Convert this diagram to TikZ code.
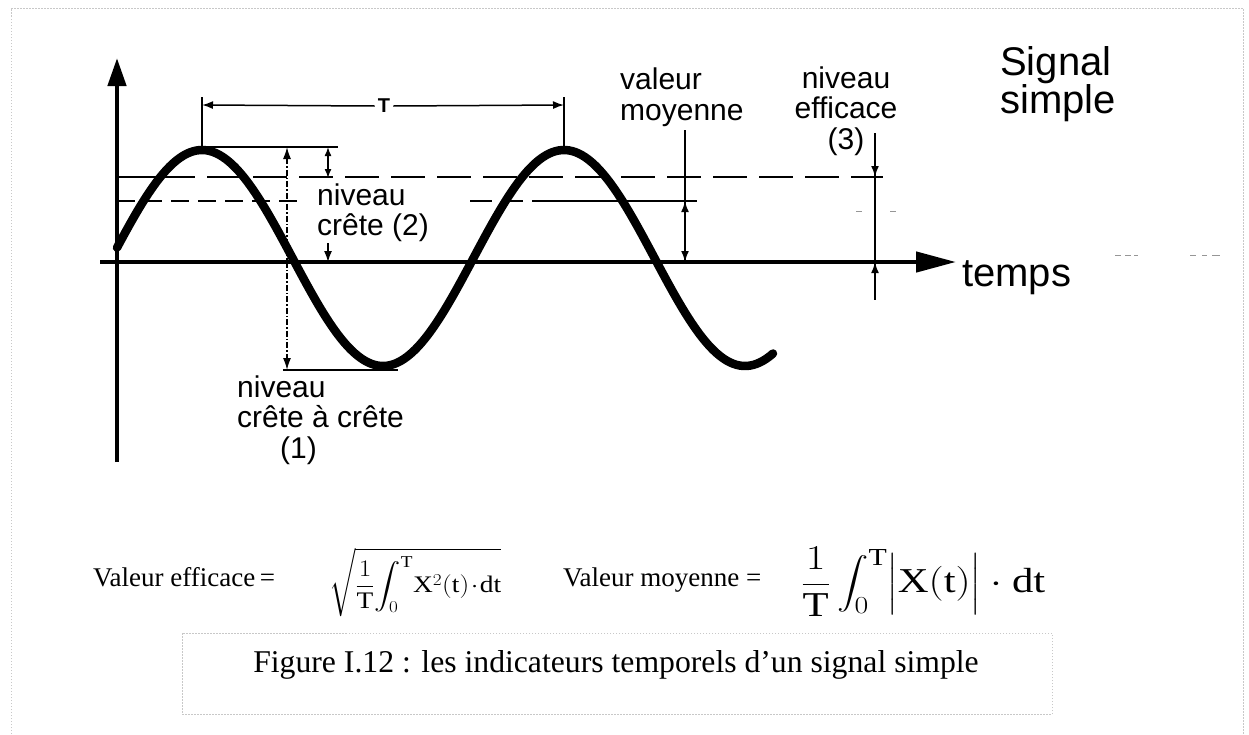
\RequirePackage{fix-cm}
\documentclass[tikz,border=0pt]{standalone}
\usepackage{amsmath}
\usepackage{fontspec}
\setmainfont{Liberation Serif}
\newfontfamily\labfont{Liberation Sans}
\usetikzlibrary{arrows.meta}
\definecolor{bordergray}{RGB}{200,200,200}
\definecolor{speck}{RGB}{150,150,150}
\begin{document}
\begin{tikzpicture}[x=1pt,y=-1pt,
  axisln/.style={line width=4.5pt},
  thinln/.style={line width=1.5pt},
  dimln/.style={line width=2.2pt},
  arr/.style={-{Latex[length=11pt,width=8pt]}},
  darr/.style={{Latex[length=9pt,width=7pt]}-{Latex[length=9pt,width=7pt]}},
  lab/.style={font=\labfont\fontsize{30}{30.5}\selectfont, inner sep=0pt, align=left},
  biglab/.style={font=\labfont\fontsize{40}{38}\selectfont, inner sep=0pt, align=left},
  frm/.style={inner sep=0pt},
  txt/.style={inner sep=0pt, font=\fontsize{27}{27}\selectfont},
  borderln/.style={draw=bordergray, line width=1pt, dash pattern=on 1.5pt off 1.5pt},
  speckln/.style={draw=speck, line width=1pt}
]
\useasboundingbox (0,0) rectangle (1249,734);
% outer border
\coordinate (b1) at (11,734); \coordinate (b2) at (11,8);
\coordinate (b3) at (1243,8); \coordinate (b4) at (1243,734);
\draw[borderln] (b1) -- (b2) -- (b3) -- (b4);

% level lines
\coordinate (e0) at (117,177); \coordinate (e1) at (161,177); \coordinate (e2) at (883,177);
\draw[thinln] (e0) -- (e1);
\draw[thinln, dash pattern=on 34pt off 12pt] (e1) -- (e2);
\coordinate (m0) at (117,201); \coordinate (m1) at (297,201);
\coordinate (m2) at (470,201); \coordinate (m3) at (545,201); \coordinate (m4) at (697,201);
\draw[thinln, dash pattern=on 18pt off 9pt] (m0) -- (m1);
\draw[thinln, dash pattern=on 22pt off 9pt] (m2) -- (m3);
\draw[thinln] (m3) -- (m4);

% peak and trough lines
\coordinate (p0) at (202,147); \coordinate (p1) at (338,147);
\draw[thinln] (p0) -- (p1);
\coordinate (t0) at (283,370); \coordinate (t1) at (398,370);
\draw[thinln] (t0) -- (t1);

% axes
\coordinate (yb) at (117,462); \coordinate (yt) at (117,58);
\draw[axisln, -{Triangle[length=28pt,width=18pt]}] (yb) -- (yt);
\coordinate (xl) at (100,262); \coordinate (xr) at (956,262);
\draw[axisln, -{Triangle[length=40pt,width=20pt]}] (xl) -- (xr);

% sine
\draw[line width=8.5pt, line cap=round] plot[domain=117:773, samples=200, smooth]
  (\x, {258-108*sin(0.994475*(\x-111.5))});

% period T
\coordinate (T0a) at (202,97); \coordinate (T0b) at (202,147);
\coordinate (T1a) at (564,97); \coordinate (T1b) at (564,147);
\draw[dimln] (T0a) -- (T0b);
\draw[dimln] (T1a) -- (T1b);
\node[font=\labfont\bfseries\fontsize{20}{20}\selectfont, inner sep=3pt] (Tl) at (384,106) {T};
\coordinate (TL) at (202,105); \coordinate (TR) at (564,105);
\draw[thinln, arr] (Tl.west) -- (TL);
\draw[thinln, arr] (Tl.east) -- (TR);

% niveau crete a crete (1)
\coordinate (c1t) at (287,147); \coordinate (c1b) at (287,370);
\draw[thinln, dash pattern=on 6pt off 2pt on 1.5pt off 2pt, {Latex[length=12pt,width=8pt]}-{Latex[length=12pt,width=8pt]}] (c1t) -- (c1b);

% niveau crete (2)
\coordinate (c2t) at (328,147); \coordinate (c2m) at (328,178);
\draw[thinln, darr] (c2t) -- (c2m);
\coordinate (c2a) at (328,243); \coordinate (c2z) at (328,262);
\draw[thinln, arr] (c2a) -- (c2z);

% valeur moyenne
\coordinate (vmt) at (685,130); \coordinate (vmz) at (685,262);
\draw[dimln] (vmt) -- (vmz);
\coordinate (vma) at (685,226); \coordinate (vml) at (685,201);
\draw[dimln, arr] (vma) -- (vml);
\coordinate (vmb) at (685,236);
\draw[dimln, arr] (vmb) -- (vmz);

% niveau efficace
\coordinate (eft) at (875,133); \coordinate (efb) at (875,300);
\draw[dimln] (eft) -- (efb);
\coordinate (efa) at (875,150); \coordinate (efl) at (875,177);
\draw[dimln, arr] (efa) -- (efl);
\coordinate (efc) at (875,290); \coordinate (efz) at (875,262);
\draw[dimln, arr] (efc) -- (efz);

% labels (anchor = baseline of the last line)
\node[lab, anchor=base west] (lvm) at (620,120) {valeur\\moyenne};
\node[lab, anchor=base, align=center] (lef) at (846,149) {niveau\\efficace\\(3)};
\node[lab, anchor=base west, font=\labfont\fontsize{30}{30}\selectfont] (lc2) at (317,235) {niveau\\crête (2)};
\node[lab, anchor=base west] (lc1) at (237,458) {niveau\\crête à crête\\\hspace*{43pt}(1)};
\node[biglab, anchor=base west] (lsig) at (1000,113) {Signal\\simple};
\node[biglab, anchor=base west] (ltemps) at (962,286) {temps};

% specks
\draw[speckln] (1115,255) -- (1121,255) (1125,255) -- (1131,255) (1134,255) -- (1138,255);
\draw[speckln] (1190,255) -- (1196,255) (1202,255) -- (1207,255) (1212,255) -- (1220,255);
\draw[speckln] (856,211) -- (862,211) (890,211) -- (896,211);

% formulas
\node[txt, anchor=base west] (fe) at (93,586) {Valeur efficace\,=};
\node[frm, anchor=south west] (fef) at (329,617) {\fontsize{26}{26}\selectfont\resizebox*{172pt}{69pt}{%
  $\displaystyle\sqrt{\frac{1}{\mathrm{T}}\!\int_0^{\mathrm{T}}\!\mathrm{X}^2(\mathrm{t})\!\cdot\!\mathrm{dt}}$}};
\node[txt, anchor=base west] (fm) at (563,586) {Valeur moyenne =};
\node[frm, anchor=south west] (fmf) at (801,617) {\fontsize{34}{34}\selectfont\resizebox*{244pt}{70pt}{%
  $\displaystyle\frac{1}{\mathrm{T}}\int_0^{\mathrm{T}}\Bigl|\mathrm{X}(\mathrm{t})\Bigr|\cdot\mathrm{dt}$}};

% caption
\coordinate (cb0) at (182,633); \coordinate (cb1) at (1052,714);
\draw[borderln] (cb0) rectangle (cb1);
\node[anchor=base, inner sep=0pt, font=\fontsize{31.7}{32}\selectfont] (cap) at (616,672)
  {Figure I.12 : les indicateurs temporels d’un signal simple};
\end{tikzpicture}
\end{document}
